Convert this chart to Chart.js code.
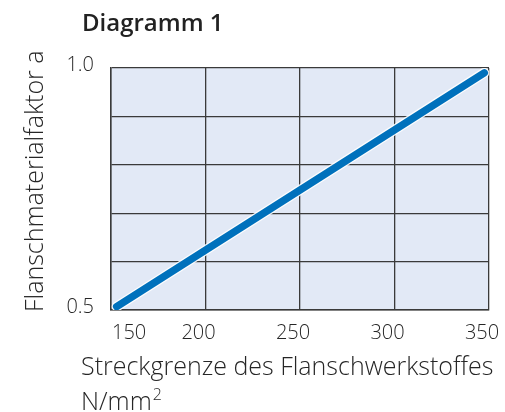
<!DOCTYPE html>
<html lang="de">
<head>
<meta charset="UTF-8">
<title>Diagramm 1</title>
<script src="https://cdn.jsdelivr.net/npm/chart.js"></script>
<style>
  html, body { margin: 0; padding: 0; background: #fff; }
  #wrap { width: 505px; height: 412px; position: relative; }
</style>
</head>
<body>
<div id="wrap"><canvas id="chart"></canvas></div>
<script>
// data
const chartTitle = 'Diagramm 1';
const yTitle = 'Flanschmaterialfaktor a';
const xTitle = 'Streckgrenze des Flanschwerkstoffes';
const xUnit = 'N/mm';
const xUnitSup = '2';
const xStrength = [153, 347.5];      // N/mm2
const factorA = [0.507, 0.99];
const xTicks = [150, 200, 250, 300, 350];
const yLabelTicks = [0.5, 1.0];

const ink = '#262626';
const font = '"Open Sans", "Liberation Sans", sans-serif';

const points = xStrength.map((x, i) => ({ x: x, y: factorA[i] }));

const plotBg = {
  id: 'plotBg',
  beforeDraw(chart) {
    const { ctx, chartArea: a } = chart;
    ctx.save();
    ctx.fillStyle = '#e2e9f6';
    ctx.fillRect(a.left, a.top, a.right - a.left, a.bottom - a.top);
    ctx.restore();
  }
};

const texts = {
  id: 'texts',
  afterDraw(chart) {
    const { ctx, chartArea: a, scales } = chart;
    ctx.save();

    // title
    ctx.font = '600 24px ' + font;
    ctx.textAlign = 'left';
    ctx.textBaseline = 'alphabetic';
    ctx.fillStyle = '#222';
    ctx.fillText(chartTitle, 82, 31, 142);

    ctx.fillStyle = ink;
    // x tick labels
    ctx.font = '300 20px ' + font;
    xTicks.forEach((v, i) => {
      const px = scales.x.getPixelForValue(v);
      if (i === 0) {
        ctx.textAlign = 'left';
        ctx.fillText(String(v), a.left + 1, 339);
      } else {
        ctx.textAlign = 'center';
        ctx.fillText(String(v), px - 7, 339);
      }
    });

    // y tick labels
    ctx.textAlign = 'right';
    ctx.textBaseline = 'middle';
    yLabelTicks.forEach(v => {
      const py = scales.y.getPixelForValue(v);
      ctx.fillText(v.toFixed(1), a.left - 17, py - 3);
    });

    // x axis title
    ctx.font = '300 25px ' + font;
    ctx.textAlign = 'left';
    ctx.textBaseline = 'alphabetic';
    ctx.fillText(xTitle, 81, 375, 420);
    ctx.fillText(xUnit, 81, 410);
    const w = ctx.measureText(xUnit).width;
    ctx.font = '300 16px ' + font;
    ctx.fillText(xUnitSup, 81 + w + 1, 400);

    // y axis title
    ctx.font = '300 25px ' + font;
    ctx.translate(43, 312);
    ctx.rotate(-Math.PI / 2);
    ctx.fillText(yTitle, 0, 0, 262);
    ctx.restore();
  }
};

new Chart(document.getElementById('chart'), {
  type: 'line',
  data: {
    datasets: [
      {
        data: points,
        borderColor: '#0071bc',
        borderWidth: 7.5,
        borderCapStyle: 'round',
        pointRadius: 0,
        fill: false,
        order: 0
      },
      {
        data: points,
        borderColor: 'rgba(255,255,255,0.9)',
        borderWidth: 10,
        borderCapStyle: 'round',
        pointRadius: 0,
        fill: false,
        order: 1
      }
    ]
  },
  options: {
    responsive: true,
    maintainAspectRatio: false,
    animation: false,
    layout: { padding: { top: 68, right: 16, left: 0, bottom: 0 } },
    plugins: { legend: { display: false }, tooltip: { enabled: false }, title: { display: false } },
    scales: {
      x: {
        type: 'linear',
        min: 150,
        max: 350,
        ticks: { display: false, stepSize: 50 },
        grid: { color: '#3a3a3a', lineWidth: 1.3, drawTicks: false },
        border: { color: '#3a3a3a', width: 1.5 },
        afterFit(s) { s.height = 102; }
      },
      y: {
        min: 0.5,
        max: 1.0,
        ticks: { display: false, stepSize: 0.1 },
        grid: { color: '#3a3a3a', lineWidth: 1.3, drawTicks: false },
        border: { color: '#3a3a3a', width: 1.5 },
        afterFit(s) { s.width = 111; }
      }
    }
  },
  plugins: [plotBg, texts]
});
</script>
</body>
</html>
